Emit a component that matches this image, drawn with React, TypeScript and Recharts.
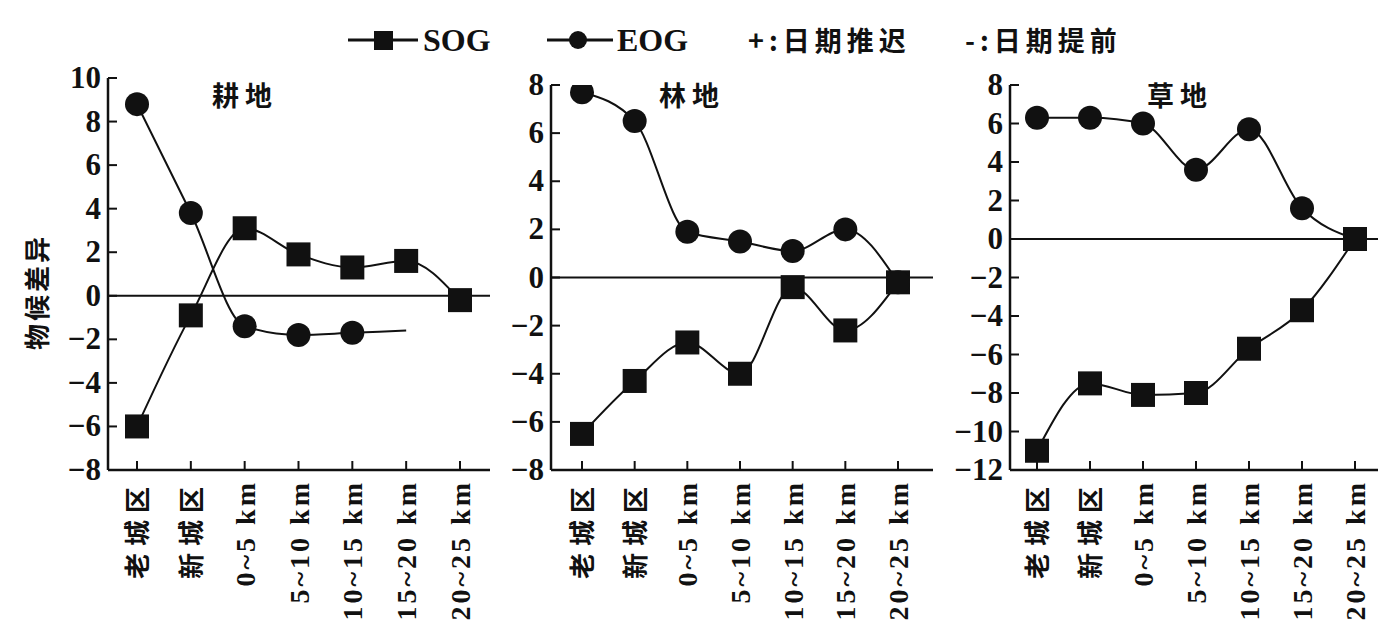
import { LineChart, Line, XAxis, YAxis, ReferenceLine } from "recharts";

const zones = ["老城区", "新城区", "0~5 km", "5~10 km", "10~15 km", "15~20 km", "20~25 km"];

const farmSOG = [-6.0, -0.9, 3.1, 1.9, 1.3, 1.6, -0.2];
const farmEOG = [8.8, 3.8, -1.4, -1.8, -1.7, -1.6, null];
const forestSOG = [-6.5, -4.3, -2.7, -4.0, -0.4, -2.2, -0.2];
const forestEOG = [7.7, 6.5, 1.9, 1.5, 1.1, 2.0, -0.2];
const grassSOG = [-11.0, -7.5, -8.1, -8.0, -5.7, -3.7, 0];
const grassEOG = [6.3, 6.3, 6.0, 3.6, 5.7, 1.6, 0];

const farmTicks = [-8, -6, -4, -2, 0, 2, 4, 6, 8, 10];
const forestTicks = [-8, -6, -4, -2, 0, 2, 4, 6, 8];
const grassTicks = [-12, -10, -8, -6, -4, -2, 0, 2, 4, 6, 8];

const INK = "#111";
const SERIF = "'Liberation Serif', 'Times New Roman', Times, 'Noto Sans CJK SC', serif";
const CJK = "'Noto Sans CJK SC', sans-serif";

const toRows = (sog: (number | null)[], eog: (number | null)[]) =>
  zones.map((zone, i) => ({ zone, sog: sog[i], eog: eog[i] }));

const panels = [
  { title: "耕地", data: toRows(farmSOG, farmEOG), ticks: farmTicks, x0: 108, x1: 490, top: 78, pad: { left: 29, right: 30 }, hideEog: [5], titleX: 245 },
  { title: "林地", data: toRows(forestSOG, forestEOG), ticks: forestTicks, x0: 551, x1: 933, top: 85, pad: { left: 31, right: 35 }, hideEog: [], titleX: 692 },
  { title: "草地", data: toRows(grassSOG, grassEOG), ticks: grassTicks, x0: 1010, x1: 1378, top: 85, pad: { left: 27, right: 23 }, hideEog: [], titleX: 1180 },
];

const BOTTOM = 470;
const YW = 70;

const fmt = (v: number) => (v < 0 ? "−" + Math.abs(v) : String(v));

const XTick = (props: any) => {
  const { x, y, payload } = props;
  const cjk = /[\u4e00-\u9fff]/.test(payload.value);
  return (
    <g>
      <line x1={x} x2={x} y1={y} y2={y - 9} stroke={INK} strokeWidth={2} />
      <text
        x={0}
        y={0}
        transform={`translate(${x + 10},${y + 10}) rotate(-90)`}
        textAnchor="end"
        fontSize={cjk ? 26 : 28}
        fontWeight="bold"
        letterSpacing={cjk ? 7 : 3}
        fontFamily={cjk ? CJK : SERIF}
        fill={INK}
      >
        {payload.value}
      </text>
    </g>
  );
};

const YTick = (props: any) => {
  const { x, y, payload } = props;
  return (
    <g>
      <line x1={x} x2={x + 9} y1={y} y2={y} stroke={INK} strokeWidth={2} />
      <text x={x - 7} y={y} dy={10} textAnchor="end" fontSize={31} fontWeight="bold" fontFamily={SERIF} fill={INK}>
        {fmt(payload.value)}
      </text>
    </g>
  );
};

const squareDot = (p: any) => {
  if (p.cx == null || p.cy == null || p.value == null) return <g key={`s${p.index}`} />;
  return <rect key={`s${p.index}`} x={p.cx - 12} y={p.cy - 12} width={24} height={24} fill={INK} />;
};

const circleDot = (hide: number[]) => (p: any) => {
  if (p.cx == null || p.cy == null || p.value == null || hide.includes(p.index)) return <g key={`c${p.index}`} />;
  return <circle key={`c${p.index}`} cx={p.cx} cy={p.cy} r={12} fill={INK} />;
};

export default function App() {
  return (
    <div style={{ position: "absolute", left: 0, top: 0, width: 1393, height: 624, background: "#fff", overflow: "hidden" }}>
      {panels.map((pn) => (
        <div key={pn.title} style={{ position: "absolute", left: pn.x0 - YW, top: 0 }}>
          <LineChart
            width={pn.x1 - pn.x0 + YW + 4}
            height={624}
            data={pn.data}
            margin={{ top: pn.top, right: 4, left: 0, bottom: 0 }}
          >
            <XAxis
              dataKey="zone"
              height={624 - BOTTOM}
              padding={pn.pad}
              interval={0}
              tickSize={0}
              tickMargin={0}
              tick={<XTick />}
              axisLine={{ stroke: INK, strokeWidth: 2.5 }}
              tickLine={false}
            />
            <YAxis
              width={YW}
              domain={[pn.ticks[0], pn.ticks[pn.ticks.length - 1]]}
              ticks={pn.ticks}
              interval={0}
              tickSize={0}
              tickMargin={0}
              tick={<YTick />}
              axisLine={{ stroke: INK, strokeWidth: 2.5 }}
              tickLine={false}
              allowDataOverflow
            />
            <ReferenceLine y={0} stroke={INK} strokeWidth={2} />
            <Line type="monotone" dataKey="sog" stroke={INK} strokeWidth={2} dot={squareDot} isAnimationActive={false} />
            <Line
              type="monotone"
              dataKey="eog"
              stroke={INK}
              strokeWidth={2}
              dot={circleDot(pn.hideEog)}
              connectNulls={false}
              isAnimationActive={false}
            />
          </LineChart>
        </div>
      ))}
      <svg width={1393} height={624} style={{ position: "absolute", left: 0, top: 0, pointerEvents: "none" }}>
        {panels.map((pn) => (
          <text key={pn.title} x={pn.titleX} y={106} textAnchor="middle" fontSize={27} fontWeight="bold" letterSpacing={6} fontFamily={CJK} fill={INK}>
            {pn.title}
          </text>
        ))}
        <text
          transform="translate(47,292) rotate(-90)"
          textAnchor="middle"
          fontSize={26}
          fontWeight="bold"
          letterSpacing={3}
          fontFamily={CJK}
          fill={INK}
        >
          物候差异
        </text>
        <g>
          <line x1={348} x2={418} y1={40} y2={40} stroke={INK} strokeWidth={3} />
          <rect x={374} y={31} width={19} height={19} fill={INK} />
          <text x={423} y={51} fontSize={32} fontWeight="bold" fontFamily={SERIF} fill={INK}>SOG</text>
          <line x1={547} x2={613} y1={40} y2={40} stroke={INK} strokeWidth={3} />
          <circle cx={578} cy={40} r={9} fill={INK} />
          <text x={617} y={51} fontSize={32} fontWeight="bold" fontFamily={SERIF} fill={INK}>EOG</text>
          <text x={748} y={51} fontSize={27} fontWeight="bold" letterSpacing={5} fontFamily={CJK} fill={INK}>+:日期推迟</text>
          <text x={965} y={51} fontSize={27} fontWeight="bold" letterSpacing={5} fontFamily={CJK} fill={INK}>-:日期提前</text>
        </g>
      </svg>
    </div>
  );
}
